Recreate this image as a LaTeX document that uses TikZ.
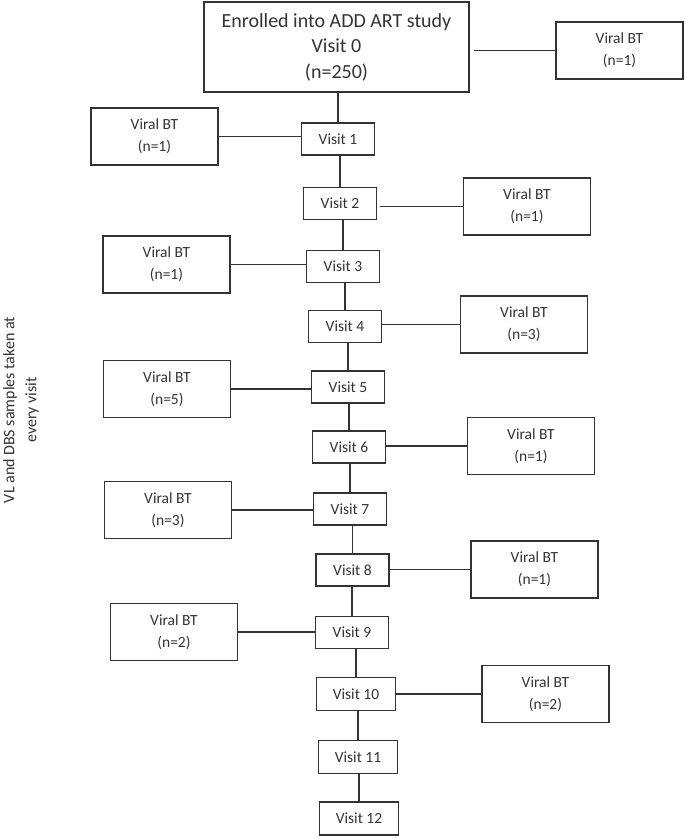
\documentclass[tikz,border=0pt]{standalone}
\usepackage{fontspec}
\setmainfont{Carlito}
\begin{document}
\begin{tikzpicture}[x=1pt,y=-1pt,
  box/.style={draw=black!80, line width=1.3pt, inner sep=0pt, align=center, text=black!80},
  visit/.style={box, minimum width=73pt, minimum height=32pt, font=\fontsize{15.5}{19}\selectfont},
  visitw/.style={visit, minimum width=79pt, minimum height=33pt},
  viral/.style={box, minimum width=127pt, minimum height=57pt, font=\fontsize{15.5}{22}\selectfont},
  link/.style={draw=black!80, line width=1.2pt}]
\useasboundingbox (0,0) rectangle (685,838);

\node[box, minimum width=265pt, minimum height=90pt, font=\fontsize{20}{25.5}\selectfont] (v0) at (336.5,47) {Enrolled into ADD ART study\\Visit 0\\(n=250)};
\node[viral] (b0) at (619.5,50.5) {Viral BT\\(n=1)};

\node[visit] (v1) at (338,139) {Visit 1};
\node[viral] (b1) at (154.5,136.5) {Viral BT\\(n=1)};
\node[visit] (v2) at (340,203.5) {Visit 2};
\node[viral] (b2) at (527,206.5) {Viral BT\\(n=1)};
\node[visit] (v3) at (343,266.5) {Visit 3};
\node[viral] (b3) at (166.5,264.5) {Viral BT\\(n=1)};
\node[visit] (v4) at (345,326.5) {Visit 4};
\node[viral] (b4) at (524,324.5) {Viral BT\\(n=3)};
\node[visit] (v5) at (348,387) {Visit 5};
\node[viral] (b5) at (167,389) {Viral BT\\(n=5)};
\node[visit] (v6) at (349,447) {Visit 6};
\node[viral] (b6) at (531,446) {Viral BT\\(n=1)};
\node[visit] (v7) at (350,509) {Visit 7};
\node[viral] (b7) at (168,510) {Viral BT\\(n=3)};
\node[visit] (v8) at (352.5,570) {Visit 8};
\node[viral] (b8) at (534.5,569.5) {Viral BT\\(n=1)};
\node[visit] (v9) at (352,632.5) {Visit 9};
\node[viral] (b9) at (174,632) {Viral BT\\(n=2)};
\node[visitw] (v10) at (356,694) {Visit 10};
\node[viral] (b10) at (545.5,694) {Viral BT\\(n=2)};
\node[visitw] (v11) at (358,757) {Visit 11};
\node[visitw] (v12) at (359,818.5) {Visit 12};

\node[rotate=90, align=center, text=black!80, font=\fontsize{16}{22}\selectfont] (note) at (21,410) {VL and DBS samples taken at\\every visit};

% vertical chain
\foreach \a/\b in {v0/v1,v1/v2,v2/v3,v3/v4,v4/v5,v5/v6,v6/v7,v7/v8,v8/v9,v9/v10,v10/v11,v11/v12}
  \draw[link] (\b.north) -- (\b.north |- \a.south);

% side branches (right)
\draw[link, shorten >=4pt] (b0.west) -- (b0.west -| v0.east);
\draw[link, shorten >=3pt] (b2.west) -- (b2.west -| v2.east);
\foreach \b/\v in {b4/v4,b6/v6,b8/v8,b10/v10}
  \draw[link] (\b.west) -- (\b.west -| \v.east);
% side branches (left)
\foreach \b/\v in {b1/v1,b3/v3,b5/v5,b7/v7,b9/v9}
  \draw[link] (\b.east) -- (\b.east -| \v.west);
\end{tikzpicture}
\end{document}
